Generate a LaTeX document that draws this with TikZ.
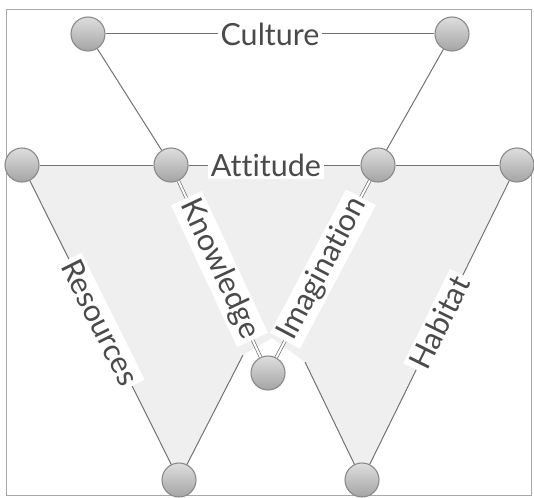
\documentclass[tikz,border=0pt]{standalone}
\usepackage{fontspec}
\setmainfont{Lato}[Ligatures=NoCommon]
\definecolor{linecol}{HTML}{77716D}
\definecolor{framecol}{HTML}{A8A8A8}
\definecolor{shadecol}{HTML}{EEEFEE}
\definecolor{textcol}{HTML}{4A4A4A}
\definecolor{circtop}{HTML}{DEDEDE}
\definecolor{circbot}{HTML}{A4A4A4}
\definecolor{circedge}{HTML}{8A8A8A}
\begin{document}
\begin{tikzpicture}[x=1pt,y=-1pt,
  dot/.style={circle, minimum size=34pt, inner sep=0pt, draw=circedge, line width=1.1pt, top color=circtop, bottom color=circbot},
  link/.style={draw=linecol, line width=1pt},
  dbl/.style={draw=linecol, line width=0.7pt, double=white, double distance=2pt},
  lbl/.style={fill=white, text=textcol, font=\fontsize{30.5}{32}\selectfont, inner xsep=3pt, inner ysep=3pt, sloped, midway}
]
\useasboundingbox (0,0) rectangle (534,497);
\draw[framecol, line width=1pt] (6.5,10) rectangle (531,495);
\fill[shadecol] (22,165) -- (516,165) -- (362,480) -- (305,362) -- (272,338) -- (243,355) -- (179,480) -- cycle;
\node[dot] (c1) at (88,34) {};
\node[dot] (c2) at (452,34) {};
\node[dot] (a1) at (22,165) {};
\node[dot] (a2) at (171,165) {};
\node[dot] (a3) at (378,165) {};
\node[dot] (a4) at (517,165) {};
\node[dot] (m) at (268,373) {};
\node[dot] (bl) at (179,480) {};
\node[dot] (br) at (362,480) {};
\coordinate (kl) at (243,355);
\coordinate (kr) at (305,362);
\draw[link] (c1) -- node[lbl]{Culture} (c2);
\draw[link] (c1) -- (a2);
\draw[link] (c2) -- (a3);
\draw[link] (a1) -- (a2);
\draw[link] (a2) -- node[lbl,pos=0.45]{Attitude} (a3);
\draw[link] (a3) -- (a4);
\draw[dbl] (a2) -- node[lbl]{Knowledge} (m);
\draw[dbl] (m) -- node[lbl]{Imagination} (a3);
\draw[link] (a1) -- node[lbl]{Resources} (bl);
\draw[link] (br) -- node[lbl]{Habitat} (a4);
\draw[link] (bl) -- (kl);
\draw[link] (br) -- (kr);
\end{tikzpicture}
\end{document}
